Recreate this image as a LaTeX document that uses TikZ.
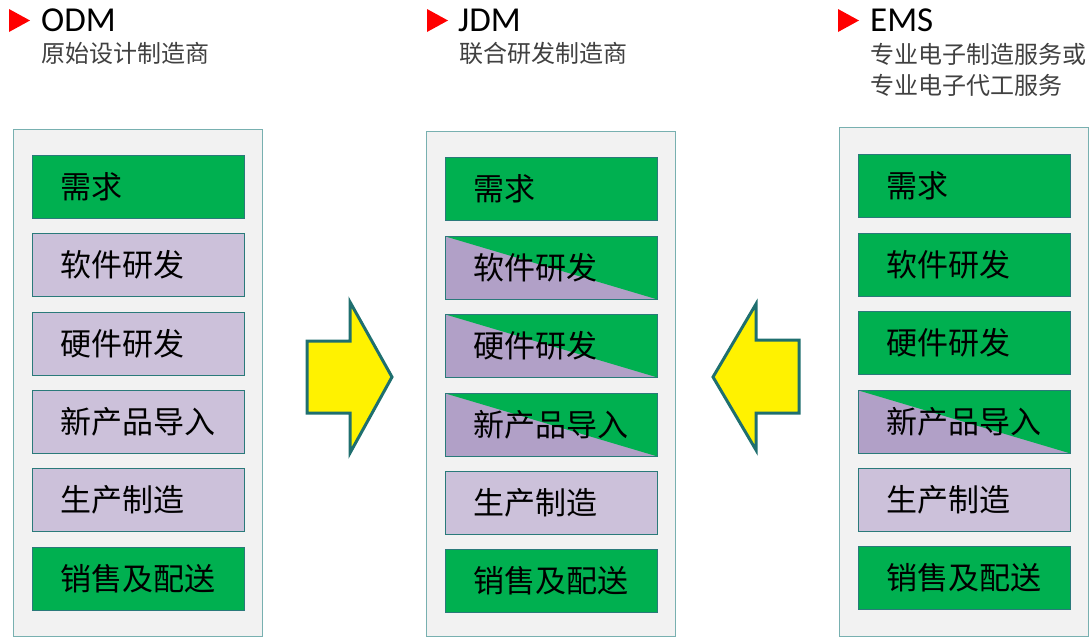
\documentclass[tikz,border=0pt]{standalone}
\usepackage{fontspec}
\newfontfamily\cjk{Noto Sans CJK SC}
\newfontfamily\lat{Carlito}
\definecolor{mygreen}{HTML}{00B050}
\definecolor{lav}{HTML}{CCC1DA}
\definecolor{lavd}{HTML}{B1A0C7}
\definecolor{boxb}{HTML}{2A7A7A}
\definecolor{contb}{HTML}{78B0B0}
\definecolor{contf}{HTML}{F2F2F2}
\definecolor{arrowb}{HTML}{1F6F6F}
\definecolor{subgray}{HTML}{404040}
\begin{document}
\begin{tikzpicture}[x=1pt,y=-1pt,
  container/.style={draw=contb, fill=contf, line width=1pt, minimum width=249pt, minimum height=507pt, anchor=north west, inner sep=0pt},
  stepbox/.style={draw=boxb, line width=0.9pt, minimum width=212pt, minimum height=63pt, anchor=north west, inner sep=0pt},
  gbox/.style={stepbox, fill=mygreen},
  pbox/.style={stepbox, fill=lav},
  sbox/.style={stepbox, fill=lavd, path picture={\fill[mygreen] (path picture bounding box.north west) -- (path picture bounding box.north east) -- (path picture bounding box.south east) -- cycle;}},
  boxtext/.style={anchor=west, inner sep=0pt, xshift=28pt, font=\cjk\fontsize{31}{31}\selectfont},
  marker/.style={fill=red, draw=none},
  head/.style={anchor=west, inner sep=0pt, font=\lat\fontsize{35}{35}\selectfont},
  subhead/.style={anchor=north west, inner sep=0pt, align=left, text=subgray, font=\cjk\fontsize{24}{31}\selectfont},
  blockarrow/.style={fill=yellow, draw=arrowb, line width=3pt, line join=miter}
]
\useasboundingbox (0,0) rectangle (1092,637);

% headers
\fill[marker] (9,9) -- (9,32) -- (30,20.5) -- cycle;
\node[head] (hodm) at (41,20.5) {ODM};
\node[subhead] (sodm) at (41,42) {原始设计制造商};

\fill[marker] (427,9) -- (427,32) -- (448,20.5) -- cycle;
\node[head] (hjdm) at (458,20.5) {JDM};
\node[subhead] (sjdm) at (459,42) {联合研发制造商};

\fill[marker] (838,9) -- (838,32) -- (859,20.5) -- cycle;
\node[head] (hems) at (870,20.5) {EMS};
\node[subhead] (sems) at (870,43) {专业电子制造服务或\\专业电子代工服务};

% containers
\node[container] (codm) at (13,129) {};
\node[container, minimum height=505pt] (cjdm) at (426,131) {};
\node[container, minimum height=509pt] (cems) at (839,127) {};

% ODM column
\node[gbox] (a1) at (32,155) {};
\node[pbox] (a2) at (32,233) {};
\node[pbox] (a3) at (32,312) {};
\node[pbox] (a4) at (32,390) {};
\node[pbox] (a5) at (32,468) {};
\node[gbox] (a6) at (32,547) {};
\node[boxtext] (ta1) at (a1.west) {需求};
\node[boxtext] (ta2) at (a2.west) {软件研发};
\node[boxtext] (ta3) at (a3.west) {硬件研发};
\node[boxtext] (ta4) at (a4.west) {新产品导入};
\node[boxtext] (ta5) at (a5.west) {生产制造};
\node[boxtext] (ta6) at (a6.west) {销售及配送};

% JDM column
\node[gbox] (b1) at (445,157) {};
\node[sbox] (b2) at (445,236) {};
\node[sbox] (b3) at (445,314) {};
\node[sbox] (b4) at (445,393) {};
\node[pbox] (b5) at (445,471) {};
\node[gbox] (b6) at (445,549) {};
\node[boxtext] (tb1) at (b1.west) {需求};
\node[boxtext] (tb2) at (b2.west) {软件研发};
\node[boxtext] (tb3) at (b3.west) {硬件研发};
\node[boxtext] (tb4) at (b4.west) {新产品导入};
\node[boxtext] (tb5) at (b5.west) {生产制造};
\node[boxtext] (tb6) at (b6.west) {销售及配送};

% EMS column
\node[gbox] (c1) at (858,154) {};
\node[gbox] (c2) at (858,233) {};
\node[gbox] (c3) at (858,311) {};
\node[sbox] (c4) at (858,390) {};
\node[pbox] (c5) at (858,468) {};
\node[gbox] (c6) at (858,546) {};
\node[boxtext] (tc1) at (c1.west) {需求};
\node[boxtext] (tc2) at (c2.west) {软件研发};
\node[boxtext] (tc3) at (c3.west) {硬件研发};
\node[boxtext] (tc4) at (c4.west) {新产品导入};
\node[boxtext] (tc5) at (c5.west) {生产制造};
\node[boxtext] (tc6) at (c6.west) {销售及配送};

% block arrows
\draw[blockarrow] (307,341) -- (350,341) -- (350,302) -- (392,377) -- (350,453) -- (350,413) -- (307,413) -- cycle;
\draw[blockarrow] (799,340) -- (756,340) -- (756,304) -- (713,377) -- (756,450) -- (756,413) -- (799,413) -- cycle;
\end{tikzpicture}
\end{document}
